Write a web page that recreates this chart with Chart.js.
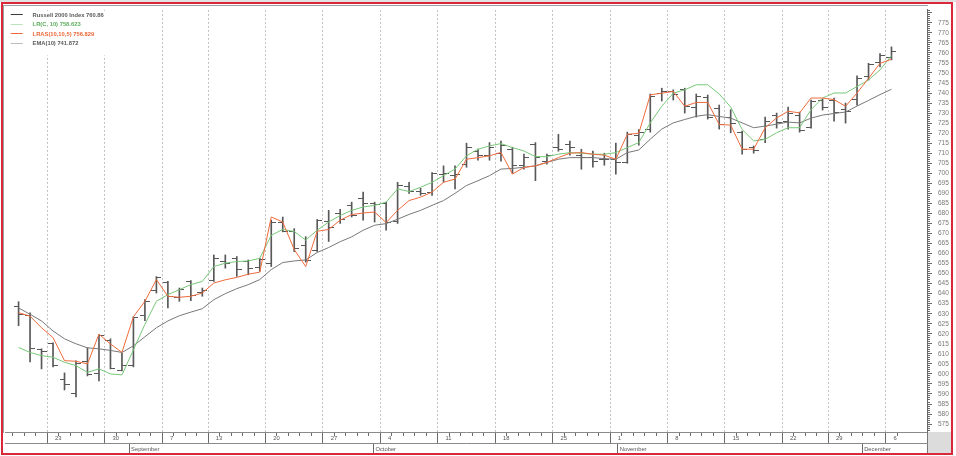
<!DOCTYPE html>
<html lang="en">
<head>
<meta charset="UTF-8"/>
<title>Russell 2000 Index</title>
<script src="https://cdn.jsdelivr.net/npm/chart.js@4.4.1/dist/chart.umd.min.js"></script>
<style>
  html, body { margin: 0; padding: 0; background: #ffffff; }
  #wrap { position: relative; width: 956px; height: 456px; overflow: hidden; }
  #wrap canvas { position: absolute; left: 0; top: 0; }
  .deco { position: absolute; pointer-events: none; }
  #topStrip { left: 0; top: 0; width: 956px; height: 2px; background: #e2e2e2; }
  #corner { left: 927px; top: 432px; width: 25px; height: 21px; background: #dcdcdc; border-left: 1px solid #777; }
  #plotEdge { left: 3px; top: 5px; width: 924px; height: 427px; border-top: 1px solid #a0a0a0; border-left: 1px solid #a0a0a0; }
  #frame { left: 1px; top: 2px; width: 948px; height: 449px; border: 2px solid #d8283a; }
</style>
</head>
<body>
<div id="wrap">
  <div class="deco" id="topStrip"></div>
  <div class="deco" id="corner"></div>
  <canvas id="chart" width="956" height="456"></canvas>
  <div class="deco" id="plotEdge"></div>
  <div class="deco" id="frame"></div>
</div>
<script>
// trading days shown on the chart
const dates = [
  '2010-08-18','2010-08-19','2010-08-20','2010-08-23','2010-08-24','2010-08-25','2010-08-26','2010-08-27','2010-08-30','2010-08-31',
  '2010-09-01','2010-09-02','2010-09-03','2010-09-07','2010-09-08','2010-09-09','2010-09-10','2010-09-13','2010-09-14','2010-09-15',
  '2010-09-16','2010-09-17','2010-09-20','2010-09-21','2010-09-22','2010-09-23','2010-09-24','2010-09-27','2010-09-28','2010-09-29',
  '2010-09-30','2010-10-01','2010-10-04','2010-10-05','2010-10-06','2010-10-07','2010-10-08','2010-10-11','2010-10-12','2010-10-13',
  '2010-10-14','2010-10-15','2010-10-18','2010-10-19','2010-10-20','2010-10-21','2010-10-22','2010-10-25','2010-10-26','2010-10-27',
  '2010-10-28','2010-10-29','2010-11-01','2010-11-02','2010-11-03','2010-11-04','2010-11-05','2010-11-08','2010-11-09','2010-11-10',
  '2010-11-11','2010-11-12','2010-11-15','2010-11-16','2010-11-17','2010-11-18','2010-11-19','2010-11-22','2010-11-23','2010-11-24',
  '2010-11-26','2010-11-29','2010-11-30','2010-12-01','2010-12-02','2010-12-03','2010-12-06'
];

const opens = [
  633.5, 629, 612, 615, 597, 590, 606, 600, 616.5, 601.5,
  604, 629, 641.5, 645.6, 638, 646, 640.5, 646.5, 656, 657.6,
  656, 653, 655, 675.7, 670.8, 664, 661.7, 676, 680, 684,
  687.3, 684.8, 684.8, 676, 693.5, 691, 690.5, 699.6, 699, 704.5,
  711, 708.7, 710, 712, 703.7, 714.5, 706, 713, 714.5, 709,
  708, 707, 707, 705.4, 719, 721.8, 740, 741, 741.6, 733,
  738, 732.5, 727.6, 720.2, 712.8, 717, 729, 726, 729, 723,
  736.5, 736.5, 731.7, 737, 748, 755, 757.5
];
const highs = [
  636, 630.5, 612.5, 615.5, 600.5, 606.5, 613, 619.5, 617.5, 610.5,
  628.5, 637, 648.5, 646.1, 642.8, 646.5, 642.8, 659.3, 659.3, 658.5,
  656.8, 657.6, 676.6, 678.2, 672.4, 668.4, 677, 681.5, 682, 685.6,
  690.6, 685.6, 685.6, 695.5, 695.5, 692.5, 700.4, 703.7, 703.7, 715,
  712, 715.3, 716, 713, 709.5, 715.3, 709.5, 719.4, 716, 712,
  711, 710, 715, 720.5, 721.8, 739.5, 742.4, 741.6, 742.4, 739.5,
  739, 734, 731.7, 721, 713.6, 728, 730, 733, 730.5, 736.5,
  737, 737.5, 735, 748.5, 754.8, 759.7, 763
];
const lows = [
  624, 606, 602.5, 603.5, 592, 588.5, 599, 596.5, 602.5, 601.5,
  603.5, 626.5, 640.3, 632.9, 636.2, 636.5, 638.7, 646.1, 652.7, 648.6,
  649.4, 651.1, 653.5, 670.8, 660.9, 655.7, 661, 666, 675, 678.2,
  676.6, 675.7, 671.6, 675, 690, 689, 689, 695.5, 692.2, 703,
  706.5, 706.5, 706, 700, 702, 696.3, 704.5, 711, 709, 702,
  703, 704, 699.6, 705, 714, 720.5, 736, 736.5, 730, 728,
  727, 722, 720.2, 709.5, 710, 715.3, 722.5, 722, 720.5, 722.5,
  731.5, 726, 725, 734, 746.5, 753, 756.5
];
const closes = [
  629.5, 612.5, 611, 604, 594.5, 605, 599.5, 619, 602.5, 604,
  628, 636, 648, 638.7, 642, 639, 641.5, 657.6, 655, 651.9,
  652.7, 656.8, 675.7, 671, 662.6, 656.5, 676.5, 673, 677, 679,
  684.8, 684.5, 675.7, 694, 691, 690, 699.8, 700, 699.5, 712.8,
  709, 712.8, 714, 704, 708, 707.8, 708.7, 712, 713, 708,
  706, 707, 705.4, 719.4, 720.5, 738.3, 740.8, 739.5, 733.4, 738.5,
  727.6, 724.3, 725, 712, 711.5, 726, 725.5, 730, 721.5, 736,
  733, 730.5, 731, 747.3, 754, 758.8, 760.86
];

// indicator lines
const lrC10 = [
  613.2, 610.7, 609.1, 608.3, 605.8, 604.1, 600.8, 602.5, 600, 599.5,
  612, 624.7, 636.2, 639.5, 642, 644.5, 646.1, 653.5, 655.2, 656,
  656.3, 657.6, 669.1, 672, 671, 666.7, 671.6, 675.7, 679, 681.5,
  683.2, 684, 685.6, 692.2, 690.9, 693, 695.5, 698.8, 702.1, 708.7,
  712, 713.6, 714.8, 712.8, 711.1, 708.3, 708.3, 709.5, 710.3, 710,
  709.5, 709.5, 710.3, 712.8, 715.3, 725.1, 733.4, 739.9, 741.6, 744.1,
  744.1, 739.5, 733, 721.8, 716.1, 716.9, 720.2, 722.7, 722.7, 731.7,
  737.5, 740, 740, 743.2, 746.5, 751.5, 758.62
];
const lras = [
  630.5, 628.8, 623, 618.1, 606.6, 606.3, 605, 619.8, 614.9, 610.7,
  628.5, 636.2, 647, 638.7, 638.2, 638.7, 640.3, 645.3, 646.9, 648.1,
  649.7, 650.7, 678.2, 675.7, 662, 653.5, 671.1, 672, 676.6, 679.4,
  680.2, 680.7, 675.4, 681.5, 686.4, 688.1, 690.6, 695.5, 697.1, 707,
  707.8, 708.7, 710.4, 699.6, 702.9, 703.7, 705.4, 707.8, 710, 710.3,
  709.5, 709, 707, 719.4, 719.9, 739.1, 739.9, 740.8, 733.4, 735.3,
  735.3, 724.3, 724, 712, 712, 722.7, 727.6, 730.9, 730.1, 737.5,
  737.5, 736.7, 733.4, 740, 747.3, 754.8, 756.83
];
const ema10 = [
  632.9, 629.7, 626.4, 621.4, 617.5, 615, 613, 612.5, 611.7, 610.7,
  614, 618.5, 623, 626.4, 629, 630.8, 632.5, 637, 640, 642.5,
  644.5, 647, 652, 655.5, 656.3, 656.8, 660.5, 663, 665.9, 668.3,
  671.6, 674.1, 674.9, 677.1, 679.5, 681.5, 684, 686.4, 690, 693.9,
  696.3, 698.8, 702.1, 702.4, 703, 703.7, 705.4, 707, 707.8, 707.8,
  707.8, 707.3, 707, 710.3, 711.6, 717, 722, 725.1, 726.8, 728.4,
  729.2, 728.3, 727.5, 725.1, 722.7, 723.5, 724.5, 725.5, 725.1, 727.5,
  729, 729.8, 730.5, 733.5, 736.3, 739.2, 741.87
];

const yTickLabels = [
  575, 580, 585, 590, 595, 600, 605, 610, 615, 620, 625, 630, 635, 640, 645, 650, 655, 660, 665, 670, 675,
  680, 685, 690, 695, 700, 705, 710, 715, 720, 725, 730, 735, 740, 745, 750, 755, 760, 765, 770, 775
];
const monthNames = ['January','February','March','April','May','June','July','August','September','October','November','December'];
const legendNames = ['Russell 2000 Index 760.86', 'LR(C, 10) 758.623', 'LRAS(10,10,5) 756.829', 'EMA(10) 741.872'];

const BAR_COLOR = '#585858';
const GREEN = '#78c878';
const ORANGE = '#f06a3c';
const GREY = '#787878';
const X_MIN = -0.66, X_MAX = 78.57;
const Y_MIN = 571.05, Y_MAX = 781.42;
const FONT = '"Liberation Sans", Arial, sans-serif';

Chart.defaults.font.family = FONT;

const days = dates.map(s => {
  const [y, m, d] = s.split('-').map(Number);
  return new Date(y, m - 1, d);
});
const isWeekStart = i => i > 0 && i < days.length && days[i].getDay() < days[i - 1].getDay();
const isMonthStart = i => i > 0 && i < days.length && days[i].getMonth() !== days[i - 1].getMonth();
const points = arr => arr.map((v, i) => ({ x: i, y: v }));

// open tick sticks out left, close tick right
function tickImage(side) {
  const c = document.createElement('canvas');
  c.width = 10; c.height = 1;
  const g = c.getContext('2d');
  g.fillStyle = BAR_COLOR;
  g.fillRect(side === 'left' ? 0 : 5, 0, 5, 1);
  return c;
}
function legendSwatch(color) {
  const c = document.createElement('canvas');
  c.width = 21; c.height = 2;
  const g = c.getContext('2d');
  g.fillStyle = color;
  g.fillRect(2, 0, 12, 1);
  return c;
}

const legendItems = [
  { text: legendNames[0], color: '#3c3c3c', font: '#5a5a5a' },
  { text: legendNames[1], color: GREEN, font: '#5cae5c' },
  { text: legendNames[2], color: ORANGE, font: '#ec6636' },
  { text: legendNames[3], color: GREY, font: '#5a5a5a' }
];

// white box behind the legend text, like the original
const legendBackdrop = {
  id: 'legendBackdrop',
  afterDatasetsDraw(chart) {
    const lg = chart.legend;
    if (!lg || !lg.legendHitBoxes) return;
    let r = 0, b = 0;
    lg.legendHitBoxes.forEach(h => {
      r = Math.max(r, h.left + h.width);
      b = Math.max(b, h.top + h.height);
    });
    const area = chart.chartArea;
    const ctx = chart.ctx;
    ctx.save();
    ctx.fillStyle = '#ffffff';
    ctx.fillRect(area.left + 1, area.top + 1, r + 40 - area.left, b + 8 - area.top);
    ctx.restore();
    lg.draw();
  }
};

const axisFont = { family: FONT, size: 5.8 };

new Chart(document.getElementById('chart'), {
  type: 'line',
  data: {
    datasets: [
      { type: 'line', label: 'LRAS', data: points(lras), borderColor: ORANGE, borderWidth: 1, pointRadius: 0, tension: 0, order: 1 },
      { type: 'line', label: 'LR', data: points(lrC10), borderColor: GREEN, borderWidth: 1, pointRadius: 0, tension: 0, order: 2 },
      { type: 'line', label: 'EMA', data: points(ema10), borderColor: GREY, borderWidth: 1, pointRadius: 0, tension: 0, order: 3 },
      { type: 'line', label: 'Open', data: points(opens), showLine: false, pointStyle: tickImage('left'), pointRadius: 1, order: 5 },
      { type: 'line', label: 'Close', data: points(closes), showLine: false, pointStyle: tickImage('right'), pointRadius: 1, order: 5 },
      { type: 'bar', label: 'Russell 2000', data: dates.map((d, i) => ({ x: i, y: [lows[i], highs[i]] })),
        backgroundColor: BAR_COLOR, barThickness: 1, borderWidth: 0, order: 6 }
    ]
  },
  options: {
    responsive: false,
    animation: false,
    devicePixelRatio: 1,
    events: [],
    layout: { padding: { left: 4, top: 6, right: 4, bottom: 2 } },
    plugins: {
      tooltip: { enabled: false },
      legend: {
        position: 'chartArea',
        align: 'start',
        title: { display: true, text: ' ', font: { size: 1, lineHeight: 1 }, padding: { top: 0, bottom: 7.4 } },
        labels: {
          usePointStyle: true,
          pointStyleWidth: 21,
          padding: 3.7,
          font: { family: FONT, size: 5.8, weight: 'bold' },
          generateLabels: () => legendItems.map((it, k) => ({
            text: it.text, fillStyle: it.color, strokeStyle: it.color, lineWidth: 0,
            pointStyle: legendSwatch(it.color), fontColor: it.font, hidden: false, datasetIndex: k
          }))
        }
      }
    },
    scales: {
      x: {
        type: 'linear', position: 'bottom', min: X_MIN, max: X_MAX,
        afterBuildTicks: s => { s.ticks = dates.map((d, i) => ({ value: i })); },
        afterFit: s => { s.height = 11; },
        grid: {
          color: c => isWeekStart(c.index) ? '#c2c2c2' : 'rgba(0,0,0,0)',
          lineWidth: 1,
          tickLength: 11,
          tickColor: '#6a6a6a',
          tickBorderDash: c => isWeekStart(c.index) ? [] : [3, 20]
        },
        border: { display: true, color: '#8a8a8a', width: 1, dash: [2, 2] },
        ticks: {
          autoSkip: false, maxRotation: 0, minRotation: 0, align: 'start',
          padding: -8.5, labelOffset: 2, font: axisFont, color: '#555',
          callback: v => isWeekStart(v) ? String(days[v].getDate()) : ''
        }
      },
      x2: {
        type: 'linear', position: 'bottom', weight: 1, min: X_MIN, max: X_MAX,
        afterBuildTicks: s => { s.ticks = dates.map((d, i) => i).filter(isMonthStart).map(i => ({ value: i })); },
        afterFit: s => { s.height = 11; },
        grid: { drawOnChartArea: false, tickLength: 11, tickColor: '#6a6a6a' },
        border: { display: true, color: '#8a8a8a', width: 1 },
        ticks: {
          autoSkip: false, maxRotation: 0, minRotation: 0, align: 'start',
          padding: -8.5, labelOffset: 2, font: axisFont, color: '#555',
          callback: v => monthNames[days[v].getMonth()]
        }
      },
      y: {
        type: 'linear', position: 'right', min: Y_MIN, max: Y_MAX,
        afterBuildTicks: s => {
          const t = [];
          for (let v = Math.ceil(Y_MIN); v <= Math.floor(Y_MAX); v++) t.push({ value: v });
          s.ticks = t;
        },
        afterFit: s => { s.width = 25; },
        grid: {
          drawOnChartArea: false, tickLength: 5, tickColor: '#6a6a6a',
          tickBorderDash: c => (c.tick && c.tick.value % 5 === 0) ? [] : [2, 10]
        },
        border: { display: true, color: '#6a6a6a', width: 1 },
        ticks: {
          autoSkip: false, padding: 6, font: { family: FONT, size: 6.5 }, color: '#777',
          callback: v => yTickLabels.includes(v) ? String(v) : ''
        }
      }
    }
  },
  plugins: [legendBackdrop]
});
</script>
</body>
</html>
